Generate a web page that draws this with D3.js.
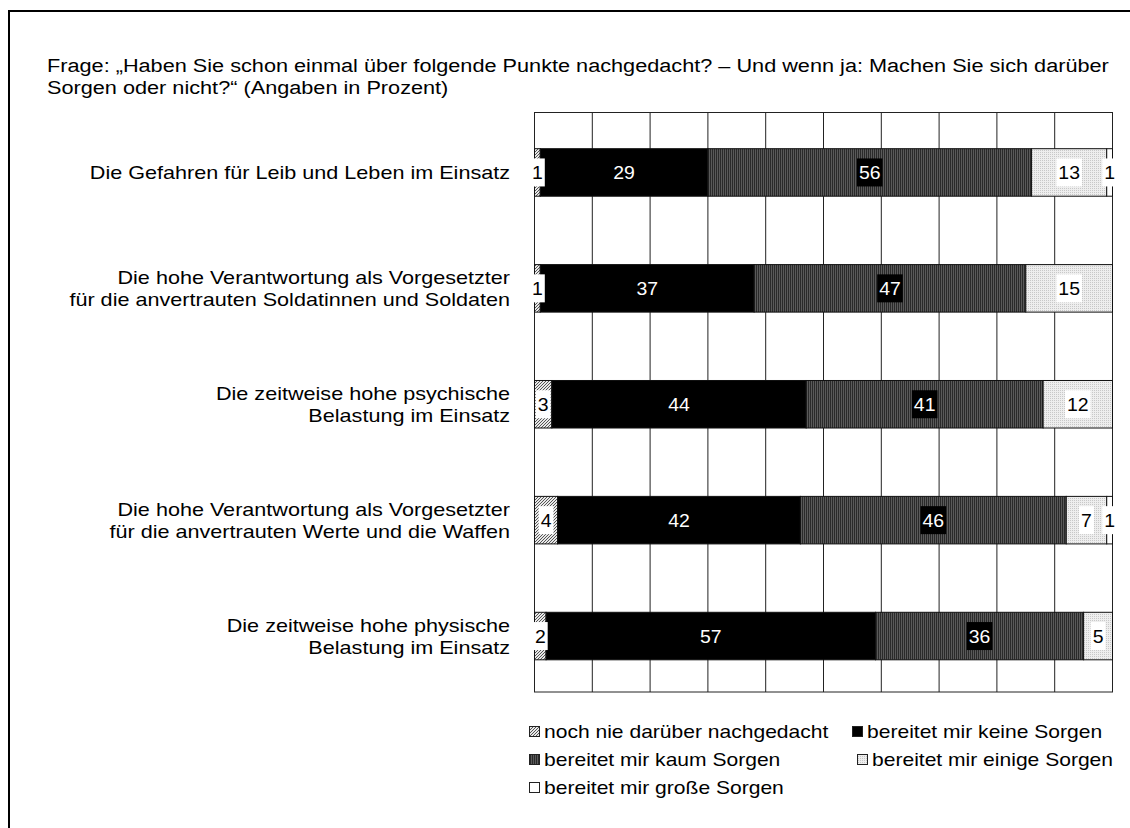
<!DOCTYPE html>
<html>
<head>
<meta charset="utf-8">
<script src="https://cdn.jsdelivr.net/npm/d3@7"></script>
<style>
  html, body { margin: 0; padding: 0; background: #fff; }
  svg { display: block; font-family: "Liberation Sans", Arial, sans-serif; }
</style>
</head>
<body>
<svg id="chart" width="1130" height="828"></svg>
<script>
// Survey items (each label split into its display lines)
const items = [
  ["Die Gefahren für Leib und Leben im Einsatz"],
  ["Die hohe Verantwortung als Vorgesetzter", "für die anvertrauten Soldatinnen und Soldaten"],
  ["Die zeitweise hohe psychische", "Belastung im Einsatz"],
  ["Die hohe Verantwortung als Vorgesetzter", "für die anvertrauten Werte und die Waffen"],
  ["Die zeitweise hohe physische", "Belastung im Einsatz"]
];

// Answer categories
const answers = [
  "noch nie darüber nachgedacht",
  "bereitet mir keine Sorgen",
  "bereitet mir kaum Sorgen",
  "bereitet mir einige Sorgen",
  "bereitet mir große Sorgen"
];

// Shares in percent, one array per answer category (in item order)
const nieNachgedacht = [1, 1, 3, 4, 2];
const keineSorgen    = [29, 37, 44, 42, 57];
const kaumSorgen     = [56, 47, 41, 46, 36];
const einigeSorgen   = [13, 15, 12, 7, 5];
const grosseSorgen   = [1, 0, 0, 1, 0];

const xTicks = [0, 10, 20, 30, 40, 50, 60, 70, 80, 90, 100];

const titleLines = [
  "Frage: „Haben Sie schon einmal über folgende Punkte nachgedacht? – Und wenn ja: Machen Sie sich darüber",
  "Sorgen oder nicht?“ (Angaben in Prozent)"
];

const series = [nieNachgedacht, keineSorgen, kaumSorgen, einigeSorgen, grosseSorgen];

const svg = d3.select("#chart");
const defs = svg.append("defs");

// Wide text: glyphs are drawn horizontally stretched
const FS = 18, SX = 1.2;
function wideText(parent, x, y, str, anchor, sx) {
  return parent.append("text")
    .attr("transform", `translate(${x},${y}) scale(${sx || SX},1)`)
    .attr("text-anchor", anchor || "start")
    .attr("font-size", FS).attr("fill", "#000").text(str);
}

// Fill patterns for the five answer categories
const hatch = defs.append("pattern").attr("id", "p-hatch")
  .attr("patternUnits", "userSpaceOnUse").attr("width", 3).attr("height", 3);
hatch.append("rect").attr("width", 3).attr("height", 3).attr("fill", "#e8e8e8");
hatch.append("path").attr("d", "M-1,1 l2,-2 M0,3 l3,-3 M2,4 l2,-2")
  .attr("stroke", "#555").attr("stroke-width", 1);

const stripes = defs.append("pattern").attr("id", "p-stripes")
  .attr("patternUnits", "userSpaceOnUse").attr("width", 2).attr("height", 2);
stripes.append("rect").attr("width", 2).attr("height", 2).attr("fill", "#5a5a5a");
stripes.append("rect").attr("width", 1).attr("height", 2).attr("fill", "#2a2a2a");

const dots = defs.append("pattern").attr("id", "p-dots")
  .attr("patternUnits", "userSpaceOnUse").attr("width", 2).attr("height", 2);
dots.append("rect").attr("width", 2).attr("height", 2).attr("fill", "#eeeeee");
dots.append("rect").attr("width", 1).attr("height", 1).attr("fill", "#c8c8c8");

const fills = ["url(#p-hatch)", "#000", "url(#p-stripes)", "url(#p-dots)", "#fff"];
// label style per category: [text colour, box colour or null]
const labelStyle = [["#000", "#fff"], ["#fff", null], ["#fff", "#000"], ["#000", "#fff"], ["#000", "#fff"]];

// Outer frame
svg.append("rect").attr("x", 9).attr("y", 11).attr("width", 1140).attr("height", 840)
  .attr("fill", "none").attr("stroke", "#000").attr("stroke-width", 2);

// Title
const title = svg.append("g");
titleLines.forEach((t, i) => wideText(title, 47, 72 + i * 22, t, "start", 1.205));

const plot = { left: 534.5, right: 1112.5, top: 112.5, bottom: 692 };

const x = d3.scaleLinear().domain([0, 100]).range([plot.left, plot.right]);
const y = d3.scaleBand().domain(d3.range(items.length))
  .range([plot.top + 2, plot.bottom + 2]).paddingInner(0.59).paddingOuter(0.295);

// Grid
const grid = svg.append("g");
grid.selectAll("line").data(xTicks).join("line")
  .attr("x1", d => x(d)).attr("x2", d => x(d))
  .attr("y1", plot.top).attr("y2", plot.bottom)
  .attr("stroke", "#222").attr("stroke-width", 1);
grid.append("rect").attr("x", plot.left).attr("y", plot.top)
  .attr("width", plot.right - plot.left).attr("height", plot.bottom - plot.top)
  .attr("fill", "none").attr("stroke", "#222").attr("stroke-width", 1);

// Stack the segments
const rows = items.map((lab, i) => {
  let acc = 0;
  return series.map((s, k) => {
    const seg = { item: i, cat: k, v: s[i], x0: acc, x1: acc + s[i] };
    acc += s[i];
    return seg;
  });
});
const segs = rows.flat().filter(d => d.v > 0);

const bars = svg.append("g");
bars.selectAll("rect").data(segs).join("rect")
  .attr("x", d => x(d.x0)).attr("width", d => x(d.x1) - x(d.x0))
  .attr("y", d => y(d.item)).attr("height", y.bandwidth())
  .attr("fill", d => fills[d.cat])
  .attr("stroke", "#111").attr("stroke-width", 1);

// Value labels
const labels = svg.append("g");
segs.forEach(d => {
  const cx = x((d.x0 + d.x1) / 2);
  const cy = y(d.item) + y.bandwidth() / 2;
  const [tc, bc] = labelStyle[d.cat];
  const g = labels.append("g");
  const t = g.append("text")
    .attr("transform", `translate(${cx},${cy + 6.5}) scale(1.08,1)`)
    .attr("text-anchor", "middle").attr("font-size", FS).attr("fill", tc).text(d.v);
  if (bc) {
    const w = t.node().getBBox().width * 1.08;
    g.insert("rect", "text").attr("x", cx - w / 2 - 2).attr("y", cy - 14)
      .attr("width", w + 4).attr("height", 28).attr("fill", bc);
  }
});

// Item labels, right aligned
const cat = svg.append("g");
items.forEach((lines, i) => {
  const cy = y(i) + y.bandwidth() / 2;
  const start = cy - (lines.length - 1) * 11;
  lines.forEach((ln, j) => wideText(cat, 510, start + j * 22 + 6.5, ln, "end"));
});

// Legend
const legendPos = [[529, 738], [852, 738], [529, 766], [857, 766], [529, 794]];
const legend = svg.append("g");
answers.forEach((a, k) => {
  const [lx, ly] = legendPos[k];
  legend.append("rect").attr("x", lx + 0.5).attr("y", ly - 11.5).attr("width", 10).attr("height", 10)
    .attr("fill", fills[k]).attr("stroke", "#222").attr("stroke-width", 1);
  wideText(legend, lx + 15, ly, a, "start", 1.17);
});
</script>
</body>
</html>
